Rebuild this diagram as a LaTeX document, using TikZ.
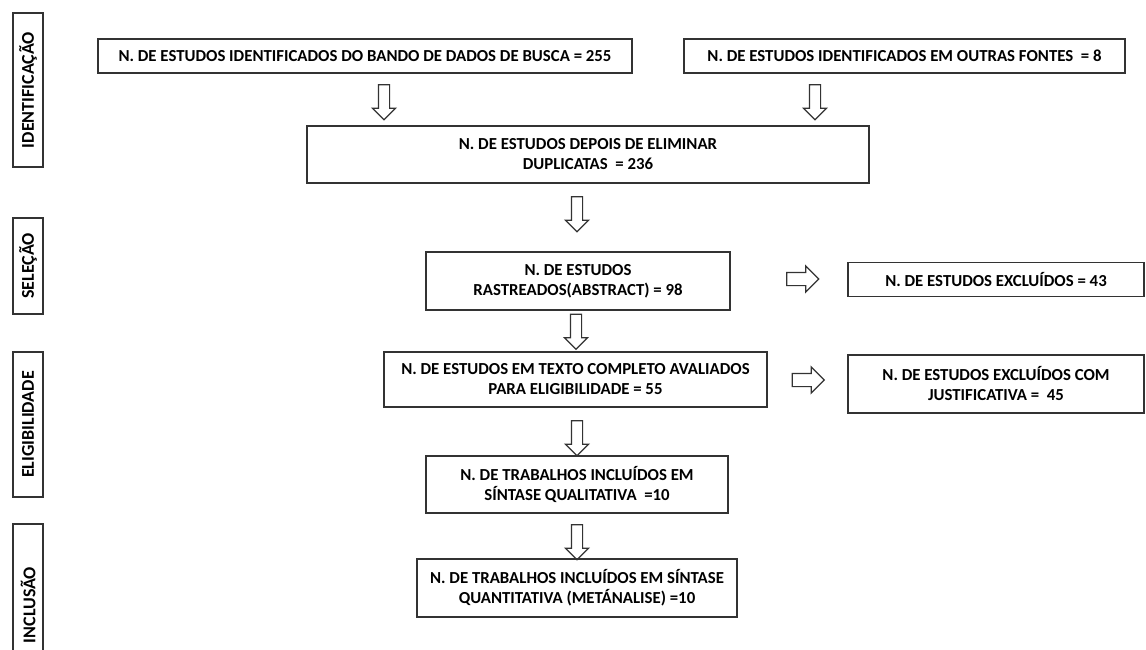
\documentclass[tikz,border=0pt]{standalone}
\usepackage{fontspec}
\setmainfont{Carlito}
\usepackage{tikz}
\usetikzlibrary{shapes.arrows}
\tikzstyle{box} = [draw=black!80,line width=1.6pt,align=center,inner sep=0pt,font=\fontsize{16.8}{20}\selectfont\bfseries]
\tikzstyle{phase} = [draw=black!80,line width=1.6pt,rotate=90,inner sep=0pt,minimum height=30pt,font=\fontsize{18}{20}\selectfont\bfseries]
\tikzstyle{downarrow} = [draw=black!80,line width=1.2pt,single arrow,rotate=-90,inner xsep=0pt,inner ysep=5pt,single arrow head extend=6pt,minimum height=35pt]
\tikzstyle{rightarrow} = [draw=black!80,line width=1.2pt,single arrow,inner xsep=0pt,inner ysep=6pt,single arrow head extend=6.5pt,minimum height=32pt]

\begin{document}
\begin{tikzpicture}[x=1pt,y=-1pt]
          \useasboundingbox (0,0) rectangle (1146,650);
          % fases
          \node[phase, minimum width=154pt] at (28,90) (ident) {IDENTIFICAÇÃO};
          \node[phase, minimum width=96pt] at (28,266) (selec) {SELEÇÃO};
          \node[phase, minimum width=145pt] at (28,424.5) (eleg) {ELIGIBILIDADE};
          \node[phase, minimum width=162pt] at (28,605) (incl) {INCLUSÃO};

          % caixas
          \node[box, minimum width=534pt, minimum height=34pt] at (365,56) (banco) {N. DE ESTUDOS IDENTIFICADOS DO BANDO DE DADOS DE BUSCA = 255};
          \node[box, minimum width=441pt, minimum height=34pt] at (904.5,56) (outras) {N. DE ESTUDOS IDENTIFICADOS EM OUTRAS\ FONTES\ \ = 8};
          \node[box, minimum width=562pt, minimum height=57pt] at (588,154.5) (dupl) {N. DE ESTUDOS DEPOIS DE ELIMINAR\\DUPLICATAS\ \ = 236};
          \node[box, minimum width=304pt, minimum height=58pt] at (578,281) (rastr) {N. DE ESTUDOS\\RASTREADOS(ABSTRACT) = 98};
          \node[box, minimum width=296pt, minimum height=34pt] at (996,279.5) (excl) {N. DE ESTUDOS EXCLUÍDOS = 43};
          \node[box, minimum width=383pt, minimum height=55pt] at (575.5,379.5) (texto) {N. DE ESTUDOS EM TEXTO COMPLETO AVALIADOS\\PARA ELIGIBILIDADE = 55};
          \node[box, minimum width=296pt, minimum height=58pt] at (996,384) (justif) {N. DE ESTUDOS EXCLUÍDOS COM\\JUSTIFICATIVA =\ \ 45};
          \node[box, minimum width=302pt, minimum height=57pt] at (577,484.5) (quali) {N. DE TRABALHOS INCLUÍDOS EM\\SÍNTASE QUALITATIVA\ \ =10};
          \node[box, minimum width=320pt, minimum height=58pt] at (577,588) (quanti) {N. DE TRABALHOS INCLUÍDOS EM SÍNTASE\\QUANTITATIVA (METÁNALISE) =10};

          % setas
          \node[downarrow] at (384,99.5) (s1) {};
          \node[downarrow] at (815,99.5) (s2) {};
          \node[downarrow] at (577,211.5) (s3) {};
          \node[downarrow] at (576,329) (s4) {};
          \node[downarrow] at (577,435.5) (s5) {};
          \node[downarrow] at (577,539.5) (s6) {};
          \node[rightarrow] at (799.5,279) (s7) {};
          \node[rightarrow] at (805,380) (s8) {};
        \end{tikzpicture}
\end{document}
